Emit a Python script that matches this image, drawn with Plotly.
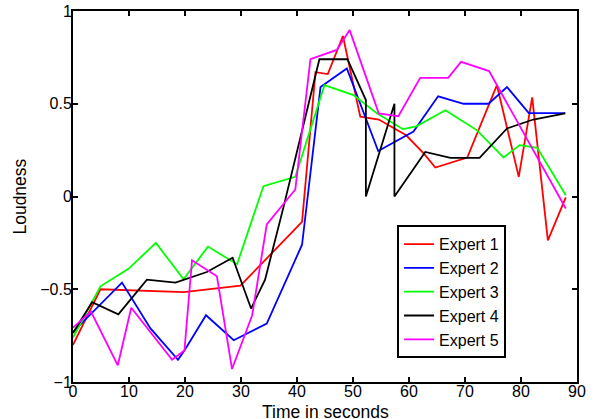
import plotly.graph_objects as go

e1_x = [0, 4.9, 19.75, 29.9, 40.9, 43.3, 45.5, 48.2, 51.3, 54.6, 59.5, 62.7, 64.7, 70.4, 75.7, 79.6, 82, 84.8, 88]
e1_y = [-0.80, -0.50, -0.515, -0.48, -0.137, 0.67, 0.66, 0.865, 0.43, 0.415, 0.33, 0.23, 0.156, 0.21, 0.60, 0.106, 0.534, -0.236, -0.005]

e2_x = [0, 8.75, 13.8, 18.75, 19.9, 23.75, 28.7, 34.6, 40.9, 44.2, 48.9, 54.5, 60.8, 65.2, 69.75, 74.2, 77.5, 81.4, 87.9]
e2_y = [-0.73, -0.464, -0.71, -0.88, -0.83, -0.64, -0.775, -0.685, -0.26, 0.59, 0.69, 0.245, 0.35, 0.54, 0.50, 0.50, 0.59, 0.45, 0.45]

e3_x = [0, 4.9, 9.9, 14.8, 19.75, 24.1, 29.3, 34, 39.7, 44.9, 50.1, 54.2, 58.9, 61.3, 66.5, 72.1, 76.9, 79.75, 82.9, 88]
e3_y = [-0.76, -0.484, -0.39, -0.25, -0.446, -0.27, -0.365, 0.056, 0.106, 0.60, 0.547, 0.45, 0.363, 0.378, 0.465, 0.358, 0.21, 0.277, 0.262, 0.007]

e4_x = [0, 3.4, 8.1, 13.2, 18.3, 23.9, 28.5, 31.8, 34.3, 37.6, 44, 49, 52.3, 52.3, 57.4, 57.4, 62.9, 67.4, 72.6, 77.5, 82.2, 87.9]
e4_y = [-0.736, -0.57, -0.635, -0.448, -0.464, -0.407, -0.33, -0.604, -0.448, -0.056, 0.74, 0.74, 0.52, 0.0, 0.50, 0.0, 0.24, 0.208, 0.208, 0.367, 0.415, 0.448]

e5_x = [0, 3.2, 8.0, 10.4, 17.7, 19.9, 21.25, 25.7, 28.4, 32, 34.6, 39.7, 42.4, 47.1, 49.4, 54.6, 58.1, 62, 67, 69.3, 74.3, 75.7, 88]
e5_y = [-0.707, -0.62, -0.91, -0.60, -0.88, -0.83, -0.344, -0.43, -0.93, -0.64, -0.15, 0.038, 0.74, 0.79, 0.897, 0.448, 0.433, 0.64, 0.64, 0.726, 0.676, 0.60, -0.065]

names = ["Expert 1", "Expert 2", "Expert 3", "Expert 4", "Expert 5"]
colors = ["#ff0000", "#0000ff", "#00ff00", "#000000", "#ff00ff"]
xs = [e1_x, e2_x, e3_x, e4_x, e5_x]
ys = [e1_y, e2_y, e3_y, e4_y, e5_y]

x_ticks = [0, 10, 20, 30, 40, 50, 60, 70, 80, 90]
y_ticks = [-1, -0.5, 0, 0.5, 1]
y_tick_text = ["\u22121", "\u22120.5", "0", "0.5", "1"]
x_title = "Time in seconds"
y_title = "Loudness"

fig = go.Figure()
for n, c, x, y in zip(names, colors, xs, ys):
    fig.add_trace(go.Scatter(x=x, y=y, mode="lines", name=n,
                             line=dict(color=c, width=1.8)))

fam = "Liberation Sans, Arial, sans-serif"
tick_font = dict(family=fam, size=16, color="black")
title_font = dict(family=fam, size=17.5, color="black")
axis_common = dict(showgrid=False, zeroline=False, showline=True, linecolor="black",
                   linewidth=2, mirror="ticks", ticks="inside", ticklen=5,
                   tickwidth=1.5, tickcolor="black", tickfont=tick_font,
                   automargin=False)

fig.update_layout(
    width=599, height=419,
    margin=dict(l=73, r=22, t=11, b=37),
    plot_bgcolor="white", paper_bgcolor="white",
    font=tick_font,
    showlegend=True,
    legend=dict(x=0.643, y=0.4227, xanchor="left", yanchor="top",
                bordercolor="black", borderwidth=2, bgcolor="white",
                font=dict(family=fam, size=16, color="black"),
                tracegroupgap=0, itemwidth=30),
    xaxis=dict(range=[0, 90], tickvals=x_ticks, ticklabelstandoff=-6, **axis_common),
    yaxis=dict(range=[-1, 1], tickvals=y_ticks, ticktext=y_tick_text,
               ticklabelstandoff=-4, **axis_common),
    annotations=[
        dict(text=x_title, xref="paper", yref="paper", x=0.5, y=-0.08,
             xanchor="center", yanchor="middle", showarrow=False, font=title_font),
        dict(text=y_title, xref="paper", yref="paper", x=-0.107, y=0.5,
             xanchor="center", yanchor="middle", textangle=-90, showarrow=False,
             font=title_font),
    ],
)

fig.write_html("out.html")
